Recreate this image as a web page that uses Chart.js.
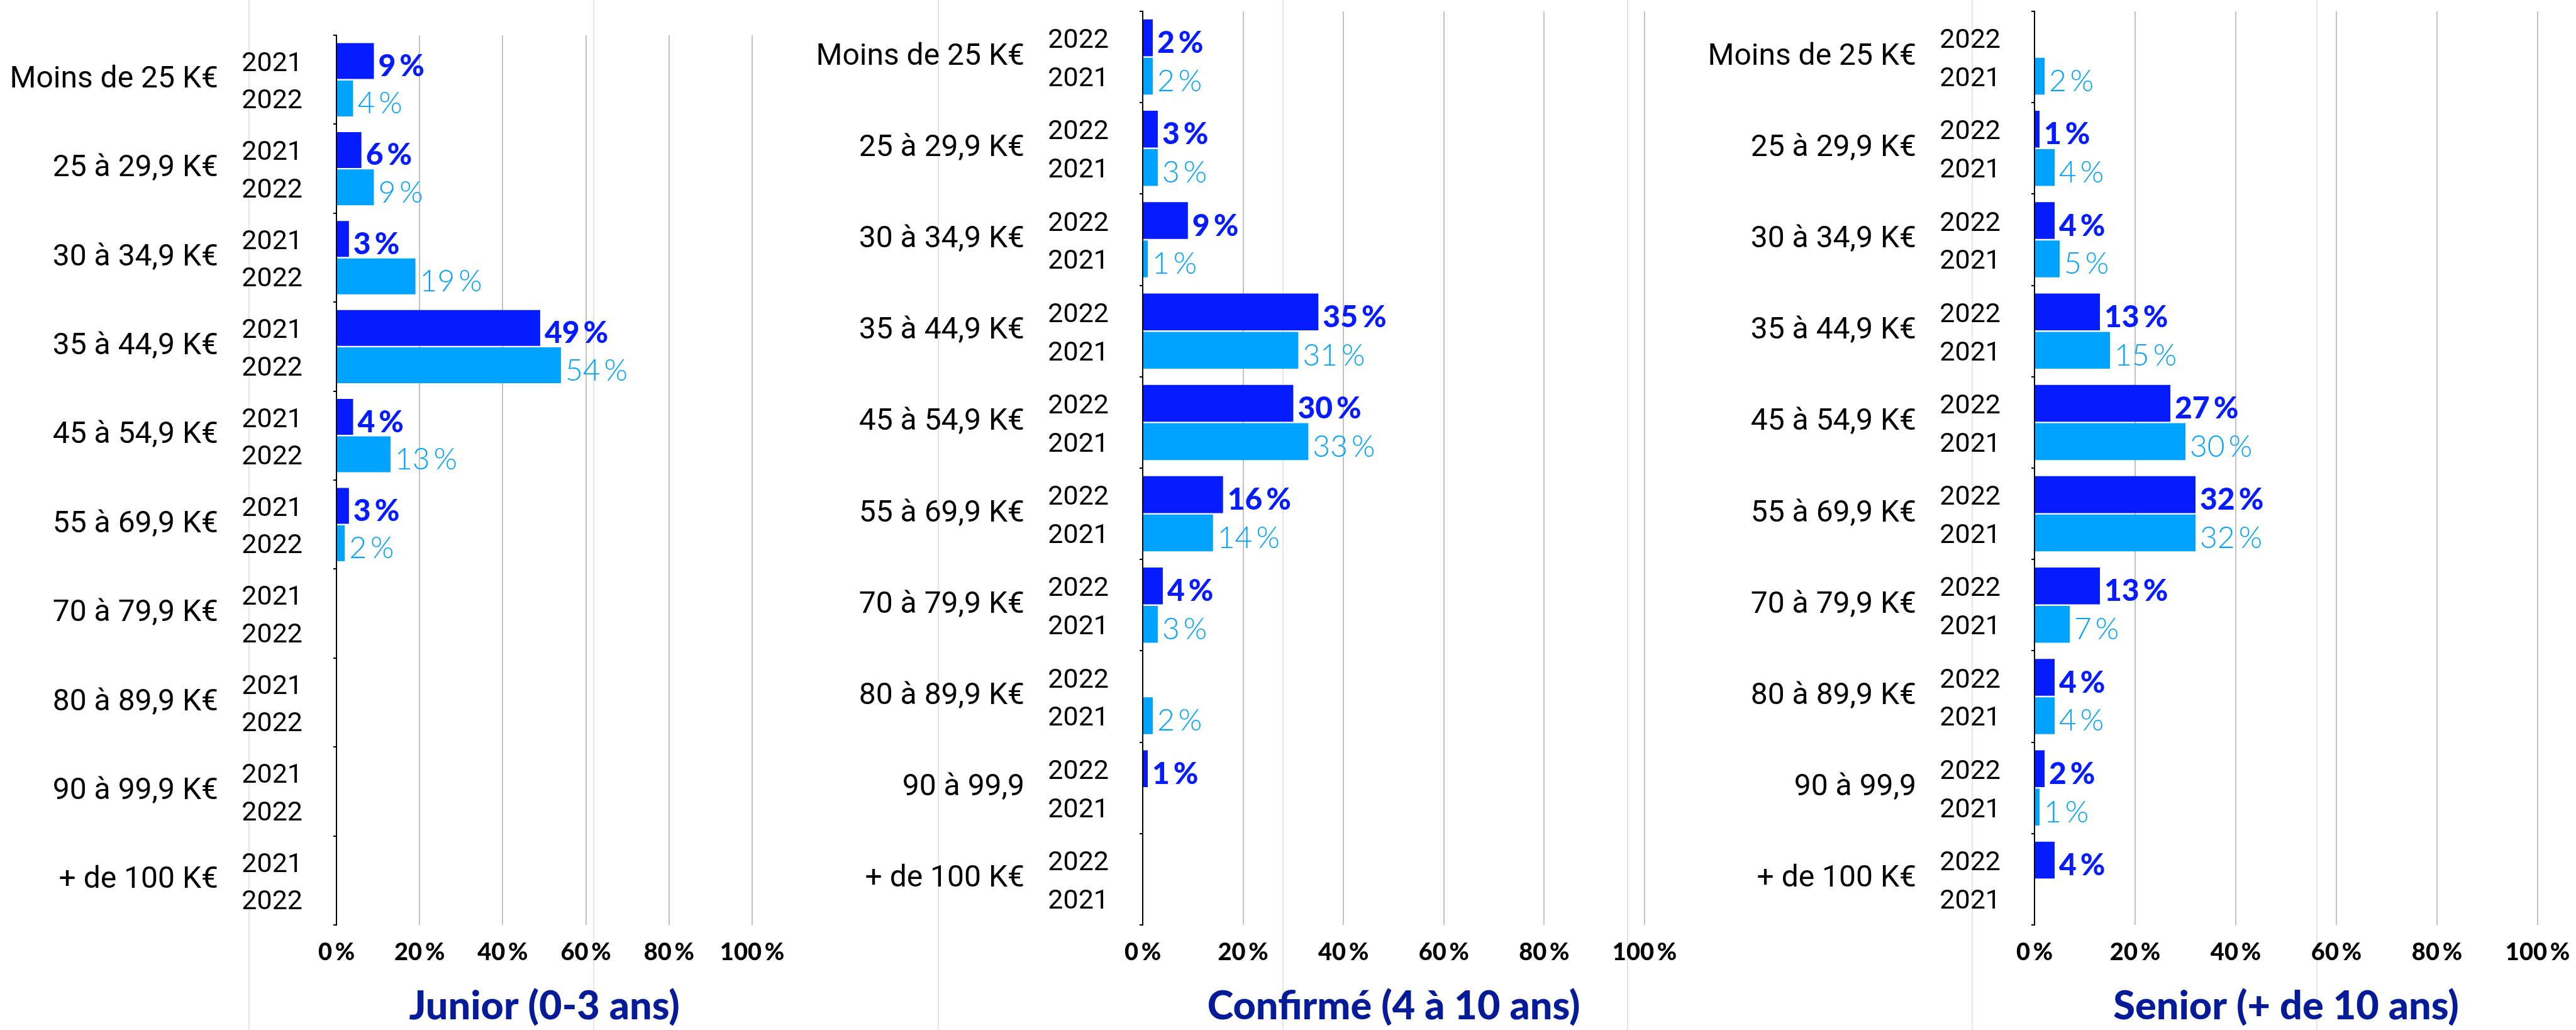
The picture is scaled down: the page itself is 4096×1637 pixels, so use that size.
<!DOCTYPE html>
<html lang="fr">
<head>
<meta charset="utf-8">
<title>Salaires par niveau d'expérience</title>
<script src="https://cdn.jsdelivr.net/npm/chart.js@4.4.1/dist/chart.umd.min.js"></script>
<style>
  html, body { margin: 0; padding: 0; background: #fff; }
  #page {
    position: relative;
    width: 4096px;
    height: 1637px;
    overflow: hidden;
    background-color: #fff;
    /* faint vertical guides behind the charts */
    background-image: linear-gradient(to right, #e6e6e6 0, #e6e6e6 2px, transparent 2px);
    background-size: 548px 100%;
    background-position: 395px 0;
    background-repeat: repeat-x;
  }
  canvas { position: absolute; top: 0; }
</style>
</head>
<body>
<div id="page">
  <canvas id="juniorChart" width="1300" height="1637" style="left:0"></canvas>
  <canvas id="confirmeChart" width="1400" height="1637" style="left:1300px"></canvas>
  <canvas id="seniorChart" width="1396" height="1637" style="left:2700px"></canvas>
</div>
<script>
// Salary bands
const bandsK = [
  "Moins de 25 K€", "25 à 29,9 K€", "30 à 34,9 K€", "35 à 44,9 K€", "45 à 54,9 K€",
  "55 à 69,9 K€", "70 à 79,9 K€", "80 à 89,9 K€", "90 à 99,9 K€", "+ de 100 K€"
];
const bandsShort = [
  "Moins de 25 K€", "25 à 29,9 K€", "30 à 34,9 K€", "35 à 44,9 K€", "45 à 54,9 K€",
  "55 à 69,9 K€", "70 à 79,9 K€", "80 à 89,9 K€", "90 à 99,9", "+ de 100 K€"
];
const xTicks = [0, 20, 40, 60, 80, 100];

// Junior (0-3 ans), % of respondents
const junior2021 = [9, 6, 3, 49, 4, 3, null, null, null, null];
const junior2022 = [4, 9, 19, 54, 13, 2, null, null, null, null];

// Confirmé (4 à 10 ans)
const confirme2022 = [2, 3, 9, 35, 30, 16, 4, null, 1, null];
const confirme2021 = [2, 3, 1, 31, 33, 14, 3, 2, null, null];

// Senior (+ de 10 ans)
const senior2022 = [null, 1, 4, 13, 27, 32, 13, 4, 2, 4];
const senior2021 = [2, 4, 5, 15, 30, 32, 7, 4, 1, null];

const DARK = "#061cff";
const LIGHT = "#00a3ff";
const NAVY = "#061b97";

// Year next to each bar, left of the axis
const yearLabels = {
  id: "yearLabels",
  afterDatasetsDraw(chart) {
    const ctx = chart.ctx;
    const x = chart.chartArea.left - 54;
    ctx.save();
    ctx.font = "43px Roboto";
    ctx.fillStyle = "#000";
    ctx.textAlign = "right";
    ctx.textBaseline = "alphabetic";
    chart.data.datasets.forEach((ds, i) => {
      chart.getDatasetMeta(i).data.forEach((bar) => {
        ctx.fillText(ds.label, x, bar.y + 16);
      });
    });
    ctx.restore();
  }
};

// Percentage at the end of each bar
const valueLabels = {
  id: "valueLabels",
  afterDatasetsDraw(chart) {
    const ctx = chart.ctx;
    ctx.save();
    ctx.textAlign = "left";
    ctx.textBaseline = "alphabetic";
    chart.data.datasets.forEach((ds, i) => {
      ctx.font = i === 0 ? "900 48px Lato" : "300 48px Lato";
      ctx.fillStyle = ds.backgroundColor;
      chart.getDatasetMeta(i).data.forEach((bar, j) => {
        const v = ds.data[j];
        if (v === null || v === undefined) return;
        ctx.fillText(v + "\u2009%", bar.x + 7, bar.y + 24);
      });
    });
    ctx.restore();
  }
};

function drawPanel(id, labels, first, second, title, box) {
  const ctx = document.getElementById(id).getContext("2d");
  new Chart(ctx, {
    type: "bar",
    data: {
      labels: labels,
      datasets: [
        {
          label: first.year,
          data: first.values,
          backgroundColor: DARK,
          barPercentage: 0.96,
          categoryPercentage: 0.84,
        },
        {
          label: second.year,
          data: second.values,
          backgroundColor: LIGHT,
          barPercentage: 0.96,
          categoryPercentage: 0.84,
        },
      ],
    },
    options: {
      indexAxis: "y",
      responsive: false,
      animation: false,
      devicePixelRatio: 1,
      layout: { padding: { top: box.top, right: box.right, bottom: 0, left: 0 } },
      plugins: {
        legend: { display: false },
        tooltip: { enabled: false },
      },
      scales: {
        x: {
          min: 0,
          max: 100,
          afterBuildTicks: (scale) => {
            scale.ticks = xTicks.map((v) => ({ value: v }));
          },
          afterFit: (scale) => {
            scale.height = 167;
            scale.paddingLeft = 0;
            scale.paddingRight = 0;
          },
          grid: {
            drawTicks: false,
            lineWidth: 2,
            color: (c) => (c.tick && c.tick.value === 0 ? "rgba(0,0,0,0)" : "#c2c2c2"),
          },
          border: { display: false },
          ticks: {
            padding: 21,
            color: "#000",
            font: { family: "Lato", size: 38, weight: "900" },
            callback: (v) => v + "\u2009%",
          },
          title: {
            display: true,
            text: title,
            color: NAVY,
            padding: { top: 0, bottom: 0 },
            font: { family: "Lato", size: 63, weight: "900" },
          },
        },
        y: {
          afterFit: (scale) => {
            scale.width = box.axis;
            scale.paddingTop = 0;
            scale.paddingBottom = 0;
          },
          grid: {
            drawOnChartArea: false,
            color: "#000",
            lineWidth: 2,
            tickLength: 5,
          },
          border: { color: "#000", width: 2 },
          ticks: {
            padding: 183,
            color: "#000",
            font: { family: "Roboto", size: 48 },
          },
        },
      },
    },
    plugins: [yearLabels, valueLabels],
  });
}

document.addEventListener("DOMContentLoaded", function () {
  drawPanel(
    "juniorChart",
    bandsK,
    { year: "2021", values: junior2021 },
    { year: "2022", values: junior2022 },
    "Junior (0-3 ans)",
    { axis: 535, right: 104, top: 56 }
  );
  drawPanel(
    "confirmeChart",
    bandsShort,
    { year: "2022", values: confirme2022 },
    { year: "2021", values: confirme2021 },
    "Confirmé (4 à 10 ans)",
    { axis: 517, right: 85, top: 18 }
  );
  drawPanel(
    "seniorChart",
    bandsShort,
    { year: "2022", values: senior2022 },
    { year: "2021", values: senior2021 },
    "Senior (+ de 10 ans)",
    { axis: 535, right: 61, top: 18 }
  );
});
</script>
</body>
</html>
